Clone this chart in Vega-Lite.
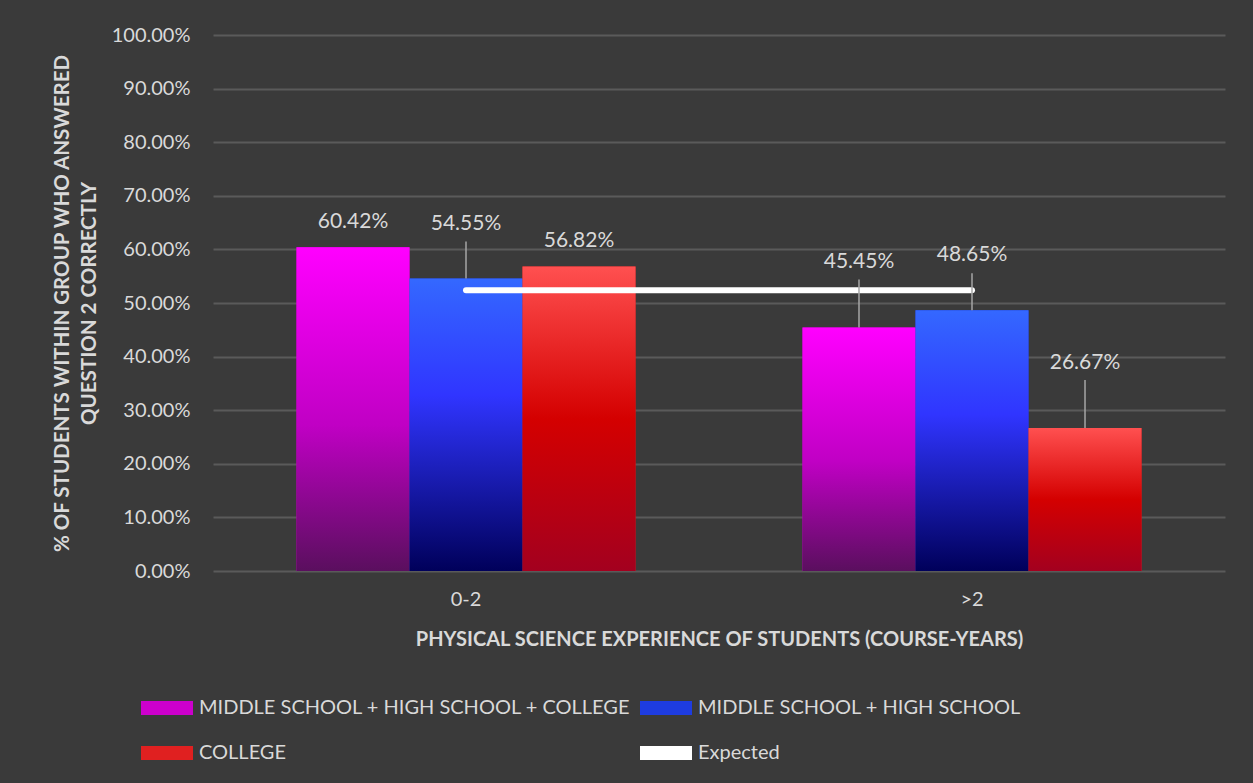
{
  "$schema": "https://vega.github.io/schema/vega-lite/v6.json",
  "width": 1012,
  "height": 536,
  "autosize": {"type": "none"},
  "padding": {"left": 213, "top": 35, "right": 28, "bottom": 212},
  "background": "#3a3a3a",
  "config": {
    "view": {"stroke": null},
    "font": "Lato",
    "axis": {"labelFont": "Lato", "titleFont": "Lato", "labelColor": "#D9D9D9", "titleColor": "#D9D9D9"},
    "legend": {"labelFont": "Lato"}
  },
  "data": {
    "values": [
      {"exp": "0-2", "group": "MIDDLE SCHOOL + HIGH SCHOOL + COLLEGE", "value": 0.6042},
      {"exp": "0-2", "group": "MIDDLE SCHOOL + HIGH SCHOOL", "value": 0.5455},
      {"exp": "0-2", "group": "COLLEGE", "value": 0.5682},
      {"exp": ">2", "group": "MIDDLE SCHOOL + HIGH SCHOOL + COLLEGE", "value": 0.4545},
      {"exp": ">2", "group": "MIDDLE SCHOOL + HIGH SCHOOL", "value": 0.4865},
      {"exp": ">2", "group": "COLLEGE", "value": 0.2667}
    ]
  },
  "encoding": {
    "x": {
      "field": "exp", "type": "nominal", "sort": ["0-2", ">2"],
      "scale": {"paddingInner": 0.33, "paddingOuter": 0.165},
      "axis": {
        "title": "PHYSICAL SCIENCE EXPERIENCE OF STUDENTS (COURSE-YEARS)",
        "labelAngle": 0, "labelFontSize": 20, "labelPadding": 18,
        "titleFontSize": 20, "titleFontWeight": "bold", "titlePadding": 20,
        "domain": false, "ticks": false, "grid": false
      }
    }
  },
  "layer": [
    {
      "mark": {"type": "bar"},
      "encoding": {
        "xOffset": {"field": "group", "type": "nominal", "scale": {"domain": ["MIDDLE SCHOOL + HIGH SCHOOL + COLLEGE", "MIDDLE SCHOOL + HIGH SCHOOL", "COLLEGE"], "paddingInner": 0, "paddingOuter": 0}},
        "y": {
          "field": "value", "type": "quantitative", "stack": null,
          "scale": {"domain": [0, 1]},
          "axis": {
            "title": ["% OF STUDENTS WITHIN GROUP WHO ANSWERED", "QUESTION 2 CORRECTLY"],
            "titleFontSize": 20.5, "titleFontWeight": "bold", "titleLineHeight": 27, "titlePadding": 12,
            "format": ".2%", "values": [0, 0.1, 0.2, 0.3, 0.4, 0.5, 0.6, 0.7, 0.8, 0.9, 1],
            "labelFontSize": 20, "labelPadding": 23,
            "domain": false, "ticks": false,
            "grid": true, "gridColor": "#5a5a5a", "gridWidth": 1.8
          }
        },
        "color": {
          "field": "group", "type": "nominal",
          "scale": {
            "domain": ["MIDDLE SCHOOL + HIGH SCHOOL + COLLEGE", "MIDDLE SCHOOL + HIGH SCHOOL", "COLLEGE", "Expected"],
            "range": ["#CC00CC", "#1E3CE0", "#E02020", "#FFFFFF"]
          },
          "legend": {
            "title": null, "orient": "none", "legendX": -72, "legendY": 647,
            "columns": 2, "direction": "horizontal", "padding": 0,
            "symbolType": "M-1,-0.27H1V0.27H-1Z", "symbolSize": 2704, "symbolStrokeWidth": 0,
            "labelFontSize": 20, "labelColor": "#D9D9D9", "labelOffset": 6, "labelLimit": 600,
            "columnPadding": 9, "rowPadding": 9
          }
        }
      }
    },
    {
      "mark": {"type": "bar"},
      "encoding": {
        "xOffset": {"field": "group", "type": "nominal"},
        "y": {"field": "value", "type": "quantitative", "stack": null},
        "color": {
          "condition": [
            {"test": "datum.group === 'MIDDLE SCHOOL + HIGH SCHOOL + COLLEGE'", "value": {"gradient": "linear", "x1": 0, "y1": 0, "x2": 0, "y2": 1, "stops": [{"offset": 0, "color": "#FF00FF"}, {"offset": 0.55, "color": "#C000C4"}, {"offset": 1, "color": "#5A0F5E"}]}},
            {"test": "datum.group === 'MIDDLE SCHOOL + HIGH SCHOOL'", "value": {"gradient": "linear", "x1": 0, "y1": 0, "x2": 0, "y2": 1, "stops": [{"offset": 0, "color": "#3468FF"}, {"offset": 0.4, "color": "#3035FF"}, {"offset": 1, "color": "#00005A"}]}}
          ],
          "value": {"gradient": "linear", "x1": 0, "y1": 0, "x2": 0, "y2": 1, "stops": [{"offset": 0, "color": "#FF5050"}, {"offset": 0.5, "color": "#D40000"}, {"offset": 1, "color": "#A3001F"}]}
        }
      }
    },
    {
      "data": {"values": [
        {"exp": "0-2", "series": "Expected", "expected": 0.524},
        {"exp": ">2", "series": "Expected", "expected": 0.524}
      ]},
      "mark": {"type": "line", "strokeWidth": 6, "strokeCap": "round"},
      "encoding": {
        "y": {"field": "expected", "type": "quantitative"},
        "color": {"field": "series", "type": "nominal"}
      }
    },
    {
      "transform": [{"filter": {"field": "value", "oneOf": [0.6042, 0.5682]}}],
      "mark": {"type": "text", "dy": -25, "fontSize": 21, "color": "#D9D9D9", "baseline": "middle"},
      "encoding": {
        "xOffset": {"field": "group", "type": "nominal"},
        "y": {"field": "value", "type": "quantitative"},
        "text": {"field": "value", "type": "quantitative", "format": ".2%"}
      }
    },
    {
      "transform": [{"filter": {"field": "value", "oneOf": [0.5455, 0.4865]}}],
      "mark": {"type": "text", "dy": -55, "fontSize": 21, "color": "#D9D9D9", "baseline": "middle"},
      "encoding": {
        "xOffset": {"field": "group", "type": "nominal"},
        "y": {"field": "value", "type": "quantitative"},
        "text": {"field": "value", "type": "quantitative", "format": ".2%"}
      }
    },
    {
      "transform": [{"filter": {"field": "value", "oneOf": [0.4545, 0.2667]}}],
      "mark": {"type": "text", "dy": -65, "fontSize": 21, "color": "#D9D9D9", "baseline": "middle"},
      "encoding": {
        "xOffset": {"field": "group", "type": "nominal"},
        "y": {"field": "value", "type": "quantitative"},
        "text": {"field": "value", "type": "quantitative", "format": ".2%"}
      }
    },
    {
      "transform": [{"filter": {"field": "value", "oneOf": [0.5455, 0.4865]}}],
      "mark": {"type": "rule", "color": "#A6A6A6", "strokeWidth": 1.5, "y2Offset": -37},
      "encoding": {
        "xOffset": {"field": "group", "type": "nominal"},
        "y": {"field": "value", "type": "quantitative"},
        "y2": {"field": "value"}
      }
    },
    {
      "transform": [{"filter": {"field": "value", "oneOf": [0.4545, 0.2667]}}],
      "mark": {"type": "rule", "color": "#A6A6A6", "strokeWidth": 1.5, "y2Offset": -48},
      "encoding": {
        "xOffset": {"field": "group", "type": "nominal"},
        "y": {"field": "value", "type": "quantitative"},
        "y2": {"field": "value"}
      }
    }
  ]
}
